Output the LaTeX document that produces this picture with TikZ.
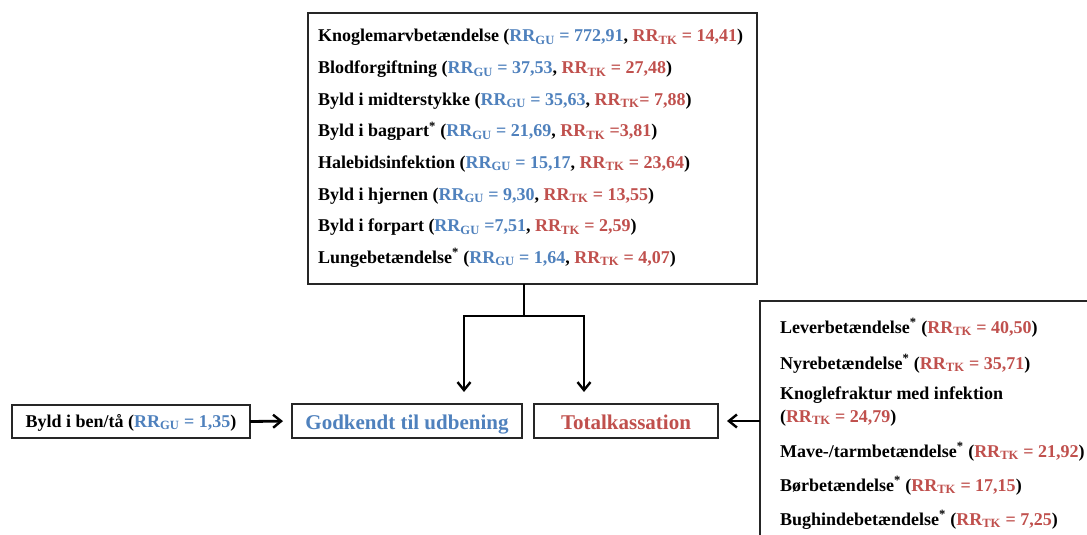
\documentclass[tikz,border=0pt]{standalone}
\usepackage{fontspec}
\setmainfont{Liberation Serif}
\usetikzlibrary{arrows.meta}
\definecolor{gublue}{HTML}{4F81BD}
\definecolor{tkred}{HTML}{C0504D}
\newcommand{\gu}[1]{\textcolor{gublue}{RR\textsubscript{GU}#1}}
\newcommand{\tk}[1]{\textcolor{tkred}{RR\textsubscript{TK}#1}}
\newcommand{\myast}{\textsuperscript{*}}
\tikzset{
  every node/.style={inner sep=0pt, outer sep=0pt},
  txt/.style={anchor=base west, font=\fontsize{18}{21}\selectfont\bfseries},
  box/.style={draw=black!85, line width=1.4pt, fill=white},
  bigbox/.style={box, minimum height=34pt, text height=20pt, text depth=4pt, font=\fontsize{21}{25}\selectfont\bfseries},
  conn/.style={line width=2.8pt, line join=miter},
  arr/.style={conn, -{Straight Barb[length=8pt,width=13pt,line width=2.4pt]}},
}
\begin{document}
\begin{tikzpicture}[x=1pt,y=-1pt]
\useasboundingbox (0,0) rectangle (1087,535);
\clip (0,0) rectangle (1087,535);
\fill[white] (0,0) rectangle (1087,535);
% top box
\node[box, anchor=north west, minimum width=449pt, minimum height=271pt] (top) at (308,13) {};
\node[txt] (t1) at (318,42) {Knoglemarvbetændelse (\gu{ = 772,91}, \tk{ = 14,41})};
\node[txt] (t2) at (318,73.6) {Blodforgiftning (\gu{ = 37,53}, \tk{ = 27,48})};
\node[txt] (t3) at (318,105.2) {Byld i midterstykke (\gu{ = 35,63}, \tk{= 7,88})};
\node[txt] (t4) at (318,136.8) {Byld i bagpart\myast{} (\gu{ = 21,69}, \tk{ =3,81})};
\node[txt] (t5) at (318,168.4) {Halebidsinfektion (\gu{ = 15,17}, \tk{ = 23,64})};
\node[txt] (t6) at (318,200) {Byld i hjernen (\gu{ = 9,30}, \tk{ = 13,55})};
\node[txt] (t7) at (318,231.6) {Byld i forpart (\gu{ =7,51}, \tk{ = 2,59})};
\node[txt] (t8) at (318,263.2) {Lungebetændelse\myast{} (\gu{ = 1,64}, \tk{ = 4,07})};
% bottom boxes
\node[box, minimum width=238pt, minimum height=33pt, text height=16pt, text depth=5pt, font=\fontsize{18}{21}\selectfont\bfseries] (byld) at (131,421.5) {Byld i ben/tå (\gu{ = 1,35})};
\node[bigbox, minimum width=230pt, text=gublue] (godk) at (407,421) {Godkendt til udbening};
\node[bigbox, minimum width=184pt, text=tkred] (total) at (626,421) {Totalkassation};
% right box
\node[box, anchor=north west, minimum width=340pt, minimum height=260pt] (right) at (760,301) {};
\node[txt] (r1) at (780,333) {Leverbetændelse\myast{} (\tk{ = 40,50})};
\node[txt] (r2) at (780,369) {Nyrebetændelse\myast{} (\tk{ = 35,71})};
\node[txt] (r3) at (780,399) {Knoglefraktur med infektion};
\node[txt] (r3b) at (780,422) {(\tk{ = 24,79})};
\node[txt] (r4) at (780,457) {Mave-/tarmbetændelse\myast{} (\tk{ = 21,92})};
\node[txt] (r5) at (780,491) {Børbetændelse\myast{} (\tk{ = 17,15})};
\node[txt] (r6) at (780,525) {Bughindebetændelse\myast{} (\tk{ = 7,25})};
% connectors
\coordinate (jm) at (524,316);
\coordinate (al) at (464,392);
\coordinate (ar) at (584,392);
\draw[conn] (top.south -| jm) -- (jm);
\draw[arr] (jm) -| (al);
\draw[arr] (jm) -| (ar);
\draw[arr, shorten >=9pt] (byld.east) -- (godk.west);
\draw[arr, shorten >=9pt] (right.west |- total.east) -- (total.east);
\end{tikzpicture}
\end{document}
